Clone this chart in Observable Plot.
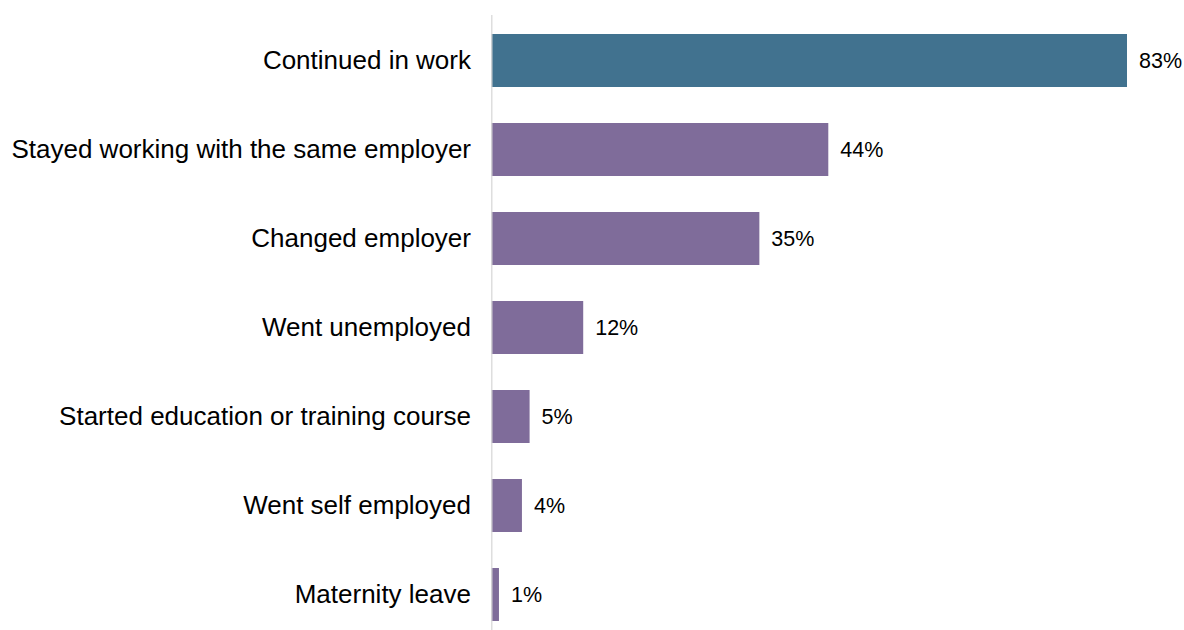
<!DOCTYPE html>
<html>
<head>
<meta charset="utf-8">
<script src="https://cdn.jsdelivr.net/npm/d3@7"></script>
<script src="https://cdn.jsdelivr.net/npm/@observablehq/plot@0.6"></script>
<style>
  html, body { margin: 0; padding: 0; background: #fff; }
  #chart svg { display: block; font-family: "Liberation Sans", Arial, sans-serif; color: #000; }
</style>
</head>
<body>
<div id="chart"></div>
<script>
const categories = [
  "Continued in work",
  "Stayed working with the same employer",
  "Changed employer",
  "Went unemployed",
  "Started education or training course",
  "Went self employed",
  "Maternity leave"
];
const values = [83, 44, 35, 12, 5, 4, 1];
const valueLabels = ["83%", "44%", "35%", "12%", "5%", "4%", "1%"];

const data = categories.map((c, i) => ({category: c, value: values[i], label: valueLabels[i]}));

const BLUE = "#41728F";
const PURPLE = "#7F6C9A";

const chart = Plot.plot({
  width: 1184,
  height: 630,
  marginLeft: 491,
  marginRight: 0,
  marginTop: 15,
  marginBottom: 0,
  style: {fontFamily: "'Liberation Sans', Arial, sans-serif", color: "#000", background: "#fff"},
  x: {domain: [0, 83], range: [491.3, 1127], axis: null},
  y: {domain: categories, range: [14.2, 639.4], paddingInner: 0.41, paddingOuter: 0.205, axis: null},
  marks: [
    Plot.barX(data, {
      y: "category",
      x: "value",
      fill: d => d.category === "Continued in work" ? BLUE : PURPLE
    }),
    Plot.ruleX([0], {stroke: "#d9d9d9", strokeWidth: 1.3}),
    Plot.text(data, {
      y: "category",
      x: "value",
      text: "label",
      textAnchor: "start",
      dx: 11.5,
      fontSize: 21.5,
      fill: "#000"
    }),
    Plot.axisY({
      tickSize: 0,
      tickPadding: 20.5,
      fontSize: 26,
      fill: "#000",
      label: null
    })
  ]
});
document.getElementById("chart").appendChild(chart);
</script>
</body>
</html>
